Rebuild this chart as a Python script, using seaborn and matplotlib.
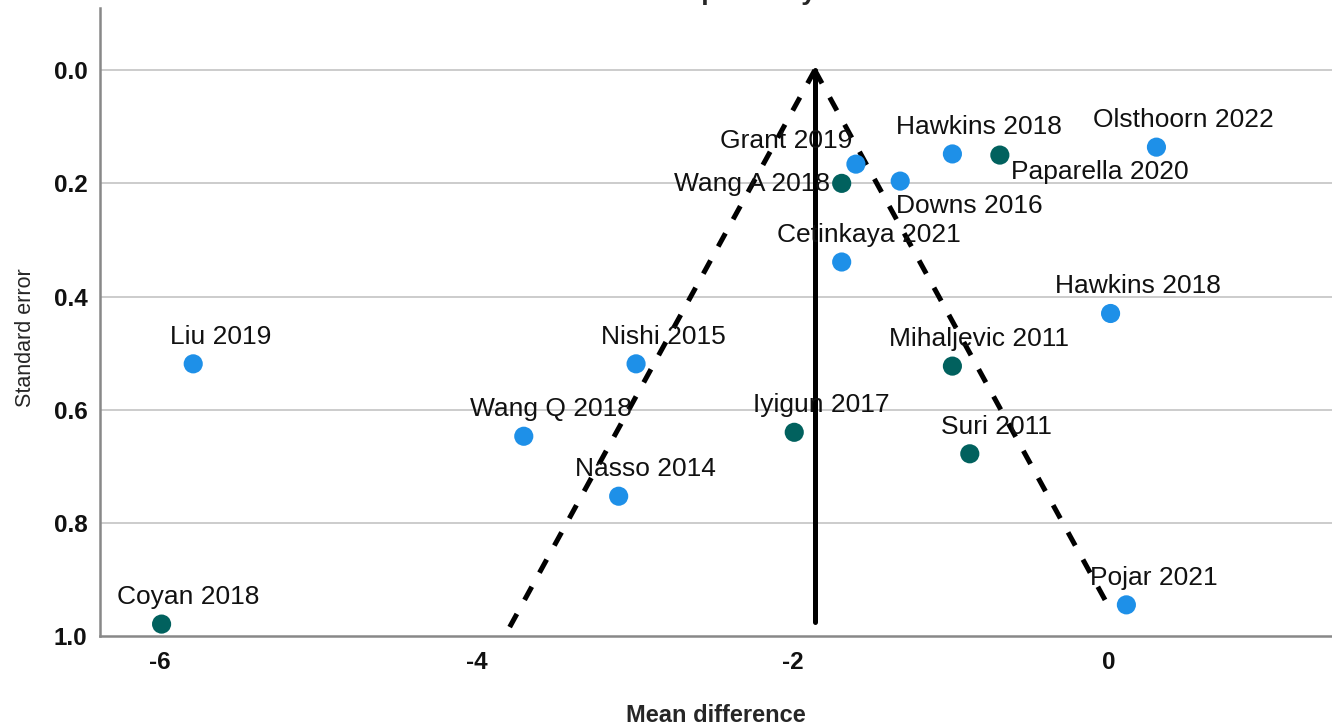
import numpy as np
import pandas as pd
import seaborn as sns
import matplotlib.pyplot as plt

studies = ["Olsthoorn 2022", "Hawkins 2018", "Paparella 2020", "Grant 2019", "Wang A 2018",
           "Downs 2016", "Cetinkaya 2021", "Hawkins 2018", "Liu 2019", "Nishi 2015",
           "Mihaljevic 2011", "Wang Q 2018", "Iyigun 2017", "Suri 2011", "Nasso 2014",
           "Pojar 2021", "Coyan 2018"]
mean_diff = [0.30, -0.99, -0.69, -1.60, -1.69, -1.32, -1.69, 0.01, -5.79, -2.99,
             -0.99, -3.70, -1.99, -0.88, -3.10, 0.11, -5.99]
std_err = [0.136, 0.148, 0.150, 0.166, 0.200, 0.196, 0.339, 0.430, 0.519, 0.519,
           0.523, 0.647, 0.640, 0.678, 0.753, 0.945, 0.979]
group = ["a", "a", "b", "a", "b", "a", "a", "a", "a", "a",
         "b", "a", "b", "b", "a", "a", "b"]

pooled_md = -1.86
se_left_end = 0.985
se_right_end = 0.96
se_line_end = 0.975

df = pd.DataFrame({"study": studies, "md": mean_diff, "se": std_err, "group": group})

sns.set_style("white")
plt.rcParams["font.family"] = ["Liberation Sans", "DejaVu Sans"]
plt.rcParams["axes.unicode_minus"] = False

fig = plt.figure(figsize=(13.32, 7.25), dpi=100)
ax = fig.add_axes([0.075, 0.1228, 0.925, 0.8662])

for y in [0.0, 0.2, 0.4, 0.6, 0.8]:
    ax.axhline(y, color="#c8c8c8", lw=1.3, zorder=0)

# funnel
ax.plot([pooled_md, pooled_md], [0, se_line_end], color="black", lw=3.6, zorder=2)
ax.plot([pooled_md, pooled_md - 1.96 * se_left_end], [0, se_left_end],
        color="black", lw=3.6, dashes=(3, 3.2), zorder=2)
ax.plot([pooled_md, pooled_md + 1.96 * se_right_end], [0, se_right_end],
        color="black", lw=3.6, dashes=(3, 3.2), zorder=2)

sns.scatterplot(data=df, x="md", y="se", hue="group",
                palette={"a": "#1E90E8", "b": "#01615E"},
                s=190, edgecolor="none", legend=False, ax=ax, zorder=3)

offsets = {2: (100, -17), 3: (-70, 23), 4: (-90, -1), 5: (69, -25)}
for i, row in df.iterrows():
    dx, dy = offsets.get(i, (27, 27))
    ax.annotate(row["study"], (row["md"], row["se"]), xytext=(dx, dy),
                textcoords="offset pixels", ha="center", va="center",
                fontsize=19, color="#111111", zorder=4)

ax.set_xlim(-6.38, 1.41)
ax.set_ylim(1.0, -0.11)
ax.set_xticks([-6, -4, -2, 0])
ax.set_yticks([0.0, 0.2, 0.4, 0.6, 0.8, 1.0])
ax.set_yticklabels(["0.0", "0.2", "0.4", "0.6", "0.8", "1.0"])
ax.tick_params(axis="both", length=0, labelsize=17.5, labelcolor="#111111")
ax.tick_params(axis="x", pad=11)
ax.tick_params(axis="y", pad=9)
for lab in ax.get_xticklabels() + ax.get_yticklabels():
    lab.set_fontweight("bold")

sns.despine(ax=ax)
for side in ["left", "bottom"]:
    ax.spines[side].set_color("#888888")
    ax.spines[side].set_linewidth(1.8)

ax.set_xlabel("Mean difference", fontsize=17, fontweight="bold")
ax.xaxis.set_label_coords(0.5, -0.108)
ax.set_ylabel("Standard error", fontsize=15.5)
ax.yaxis.set_label_coords(-0.052, 0.475)

fig.text(0.488, 0.993, "Funnel Plot - Hospital stay", ha="center", va="bottom",
         fontsize=19, fontweight="bold")

fig.savefig("out.png", dpi=100)
